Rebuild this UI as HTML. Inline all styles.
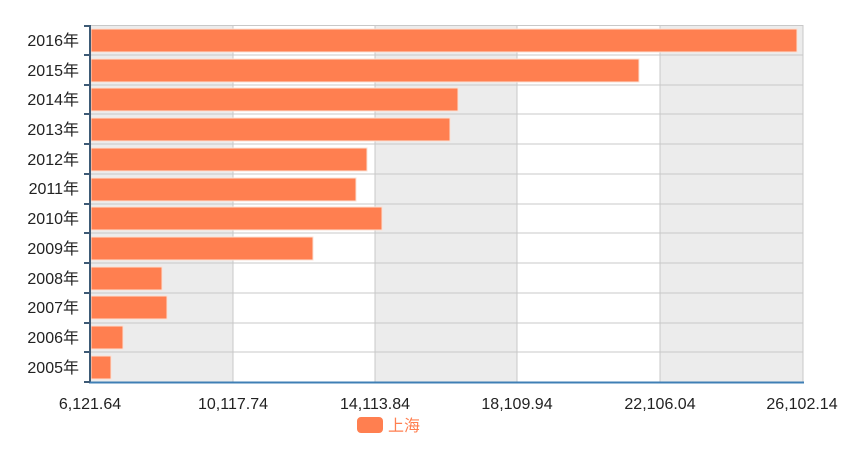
<!DOCTYPE html>
<html><head><meta charset="utf-8"><style>body{margin:0;background:#fff}</style></head><body>
<svg width="868" height="469" xmlns="http://www.w3.org/2000/svg" font-family="'Liberation Sans','Noto Sans CJK SC',sans-serif">
<rect x="90" y="25" width="143" height="357" fill="#ececec"/>
<rect x="375" y="25" width="142" height="357" fill="#ececec"/>
<rect x="660" y="25" width="143" height="357" fill="#ececec"/>
<g stroke="#c8c8c8" stroke-width="1">
<line x1="233" y1="25" x2="233" y2="382"/><line x1="375" y1="25" x2="375" y2="382"/><line x1="517" y1="25" x2="517" y2="382"/><line x1="660" y1="25" x2="660" y2="382"/><line x1="803" y1="25" x2="803" y2="382"/>
<line x1="90" y1="25.5" x2="803" y2="25.5"/><line x1="90" y1="55" x2="803" y2="55"/><line x1="90" y1="85" x2="803" y2="85"/><line x1="90" y1="114" x2="803" y2="114"/><line x1="90" y1="144" x2="803" y2="144"/><line x1="90" y1="174" x2="803" y2="174"/><line x1="90" y1="204" x2="803" y2="204"/><line x1="90" y1="233" x2="803" y2="233"/><line x1="90" y1="263" x2="803" y2="263"/><line x1="90" y1="293" x2="803" y2="293"/><line x1="90" y1="323" x2="803" y2="323"/><line x1="90" y1="352" x2="803" y2="352"/>
</g>
<g fill="#ff7f50" stroke="#fbe0d4" stroke-width="1">
<rect x="91" y="29" width="706" height="23"/>
<rect x="91" y="59" width="548" height="23"/>
<rect x="91" y="88" width="367" height="23"/>
<rect x="91" y="118" width="359" height="23"/>
<rect x="91" y="148" width="276" height="23"/>
<rect x="91" y="178" width="265" height="23"/>
<rect x="91" y="207" width="291" height="23"/>
<rect x="91" y="237" width="222" height="23"/>
<rect x="91" y="267" width="71" height="23"/>
<rect x="91" y="296" width="76" height="23"/>
<rect x="91" y="326" width="32" height="23"/>
<rect x="91" y="356" width="20" height="23"/>
</g>
<line x1="90" y1="25" x2="90" y2="383" stroke="#3d5a75" stroke-width="2"/>
<line x1="89" y1="382.5" x2="804" y2="382.5" stroke="#3f7fb5" stroke-width="2"/>
<g stroke="#3d5a75" stroke-width="2">
<line x1="84" y1="26" x2="90" y2="26"/><line x1="84" y1="55" x2="90" y2="55"/><line x1="84" y1="85" x2="90" y2="85"/><line x1="84" y1="114" x2="90" y2="114"/><line x1="84" y1="144" x2="90" y2="144"/><line x1="84" y1="174" x2="90" y2="174"/><line x1="84" y1="204" x2="90" y2="204"/><line x1="84" y1="233" x2="90" y2="233"/><line x1="84" y1="263" x2="90" y2="263"/><line x1="84" y1="293" x2="90" y2="293"/><line x1="84" y1="323" x2="90" y2="323"/><line x1="84" y1="352" x2="90" y2="352"/><line x1="84" y1="382" x2="90" y2="382"/>
</g>
<g font-size="16" fill="#222" text-anchor="end">
<text x="79" y="46">2016年</text><text x="79" y="76">2015年</text><text x="79" y="105">2014年</text><text x="79" y="135">2013年</text><text x="79" y="165">2012年</text><text x="79" y="194">2011年</text><text x="79" y="224">2010年</text><text x="79" y="254">2009年</text><text x="79" y="284">2008年</text><text x="79" y="313">2007年</text><text x="79" y="343">2006年</text><text x="79" y="373">2005年</text>
</g>
<g font-size="16" fill="#222" text-anchor="middle">
<text x="90" y="409">6,121.64</text><text x="233" y="409">10,117.74</text><text x="375" y="409">14,113.84</text><text x="517" y="409">18,109.94</text><text x="660" y="409">22,106.04</text><text x="802" y="409">26,102.14</text>
</g>
<rect x="357" y="417" width="26" height="16" rx="4" fill="#ff7f50"/>
<text x="388" y="431" font-size="16" fill="#ff7f50">上海</text>
</svg>
</body></html>
